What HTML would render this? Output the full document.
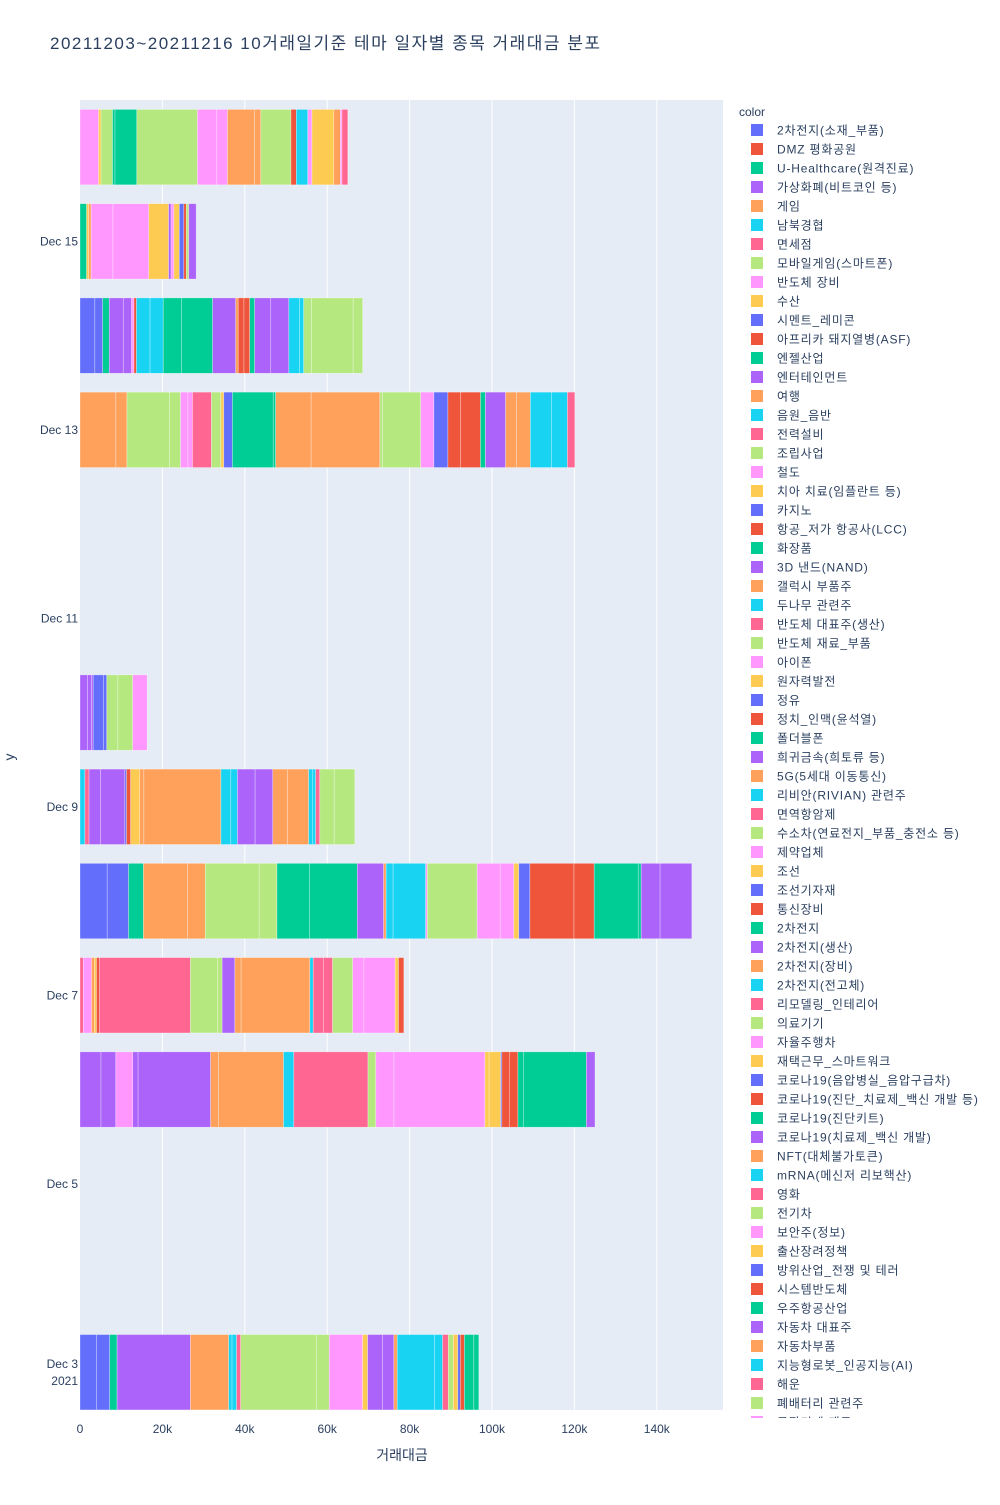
<!DOCTYPE html>
<html><head><meta charset="utf-8">
<style>
body{margin:0;background:#fff;font-family:"Liberation Sans","Noto Sans CJK KR",sans-serif;}
svg text{font-family:"Liberation Sans","Noto Sans CJK KR",sans-serif;}
</style></head>
<body>
<svg id="chart" width="1000" height="1500" xmlns="http://www.w3.org/2000/svg">
<rect x="0" y="0" width="1000" height="1500" fill="#fff"/>
<text x="50" y="49" font-size="17" fill="#2a3f5f" textLength="550" lengthAdjust="spacing">20211203~20211216 10거래일기준 테마 일자별 종목 거래대금 분포</text>
<rect x="80" y="100" width="643" height="1310" fill="#E5ECF6"/>
<g id="grid"></g>
<g id="bars"></g>
<g id="axes"></g>
<g id="legend"></g>
</svg>
<script>
// ---- data ----
const barDays = [16, 15, 14, 13, 10, 9, 8, 7, 6, 3];
const seg16 = [4.5,0.6,2.8,0.6,5.3,14.7,4.7,2.6,6.5,1.6,7.3,1.3,2.8,1.0,5.3,1.6,0.4,1.4];
const col16 = "MYLGGLMMOOLRCMYOMK";
const seg15 = [1.6,0.5,0.6,5.3,8.7,4.8,0.6,0.7,1.3,1.1,0.6,0.6,1.8];
const col15 = "GYOMMYPMYBRLP";
const seg14 = [3.6,1.9,1.6,3.4,2.0,0.6,0.6,3.3,3.2,4.4,7.6,5.6,0.6,1.4,1.4,1.2,3.9,4.4,2.6,1.0,1.9,10.1,2.3];
const col14 = "BBGPPMRCCGGPORRGPPCCLLL";
const seg13 = [8.7,2.7,10.3,2.7,1.8,1.1,4.6,2.3,0.7,2.1,9.9,0.6,8.6,16.7,0.6,9.3,3.2,3.4,3.1,4.8,1.2,4.9,2.6,3.4,5.1,3.9,1.8];
const col13 = "OOLLMMKLYBGGOOLLMBRRGPOOCCK";
const seg10 = [1.8,1.0,0.4,2.5,0.8,2.7,3.6,3.5];
const col10 = "PPPBBLLM";
const seg9 = [1.2,1.0,2.8,5.9,0.4,1.0,2.2,1.0,18.7,2.4,1.6,4.3,4.3,3.6,5.1,1.0,0.7,1.0,3.5,5.0];
const col9 = "CKPPBRYOOCCPPOOCCKLL";
const seg8 = [6.6,5.2,3.6,10.7,4.3,13.1,4.3,7.9,11.6,6.4,0.6,1.7,7.9,0.4,12.1,5.6,3.3,1.2,2.7,10.7,4.9,10.7,0.7,4.6,7.7];
const col8 = "BBGOOLLGGPOCCMLMMYBRRGGPP";
const seg7 = [0.8,2.0,0.7,0.5,0.7,22.1,6.6,1.1,3.1,1.5,16.7,0.8,2.5,2.2,4.9,2.7,7.6,0.8,1.3];
const col7 = "KMOYRKLLPOOCKKLMMYR";
const seg6 = [5.1,3.6,4.1,1.3,17.6,1.9,15.8,2.5,18.0,1.9,4.4,22.1,1.0,2.8,0.3,1.8,2.1,1.3,15.3,2.1];
const col6 = "PPMPPOOCKLMMYYBRRGGP";
const seg3 = [4.0,3.2,1.8,17.8,9.3,0.8,1.1,1.0,18.4,3.1,8.1,1.2,3.6,2.8,0.8,9.1,1.9,1.4,1.2,1.1,0.6,1.0,2.3,1.2];
const col3 = "BBGPOCCKLLMYPPOCCKLYBRGG";
const barSegs = [seg16,seg15,seg14,seg13,seg10,seg9,seg8,seg7,seg6,seg3];
const barCols = [col16,col15,col14,col13,col10,col9,col8,col7,col6,col3];
const xTicks = [0,20,40,60,80,100,120,140];
const xTickLabels = ["0","20k","40k","60k","80k","100k","120k","140k"];
const yTickDays = [15,13,11,9,7,5,3];
const yTickLabels = ["Dec 15","Dec 13","Dec 11","Dec 9","Dec 7","Dec 5","Dec 3"];
const legendNames = ["2차전지(소재_부품)","DMZ 평화공원","U-Healthcare(원격진료)","가상화폐(비트코인 등)","게임","남북경협","면세점","모바일게임(스마트폰)","반도체 장비","수산","시멘트_레미콘","아프리카 돼지열병(ASF)","엔젤산업","엔터테인먼트","여행","음원_음반","전력설비","조립사업","철도","치아 치료(임플란트 등)","카지노","항공_저가 항공사(LCC)","화장품","3D 낸드(NAND)","갤럭시 부품주","두나무 관련주","반도체 대표주(생산)","반도체 재료_부품","아이폰","원자력발전","정유","정치_인맥(윤석열)","폴더블폰","희귀금속(희토류 등)","5G(5세대 이동통신)","리비안(RIVIAN) 관련주","면역항암제","수소차(연료전지_부품_충전소 등)","제약업체","조선","조선기자재","통신장비","2차전지","2차전지(생산)","2차전지(장비)","2차전지(전고체)","리모델링_인테리어","의료기기","자율주행차","재택근무_스마트워크","코로나19(음압병실_음압구급차)","코로나19(진단_치료제_백신 개발 등)","코로나19(진단키트)","코로나19(치료제_백신 개발)","NFT(대체불가토큰)","mRNA(메신저 리보핵산)","영화","전기차","보안주(정보)","출산장려정책","방위산업_전쟁 및 테러","시스템반도체","우주항공산업","자동차 대표주","자동차부품","지능형로봇_인공지능(AI)","해운","폐배터리 관련주","공작기계 재료"];

// ---- styling ----
const palette = {B:"#636efa",R:"#EF553B",G:"#00cc96",P:"#ab63fa",O:"#FFA15A",C:"#19d3f3",K:"#FF6692",L:"#B6E880",M:"#FF97FF",Y:"#FECB52"};
const cycle = ["#636efa","#EF553B","#00cc96","#ab63fa","#FFA15A","#19d3f3","#FF6692","#B6E880","#FF97FF","#FECB52"];
const NS = "http://www.w3.org/2000/svg";
const X0 = 80, PXK = 4.12;
function xs(v){ return X0 + v*PXK; }
const DAYPX = 94.24;
function ys(d){ return 100 + (16.5 - d)*DAYPX; }
function mk(tag, attrs, parent){ const e=document.createElementNS(NS,tag); for(const k in attrs) e.setAttribute(k,attrs[k]); parent.appendChild(e); return e; }

const grid = document.getElementById('grid');
xTicks.forEach((t,i)=>{
  if(i===0) return;
  const l = mk('line',{x1:xs(t),x2:xs(t),y1:100,y2:1410,stroke:"#fff","stroke-width":1},grid);
  
  
});

const bars = document.getElementById('bars');
barDays.forEach((d,bi)=>{
  const g = mk('g',{},bars);
  
  
  let acc = 0;
  const vals = barSegs[bi], cols = barCols[bi];
  const yc = ys(d), h = 0.8*DAYPX;
  vals.forEach((v,si)=>{
    const r = mk('rect',{x:xs(acc),y:yc-h/2,width:v*PXK,height:h,fill:palette[cols[si]],stroke:"rgba(255,255,255,0.5)","stroke-width":0.6},g);
    
    
    acc += v;
  });
});

const axes = document.getElementById('axes');
xTicks.forEach((t,i)=>{
  const tx = mk('text',{x:xs(t),y:1433,"font-size":12,fill:"#2a3f5f","text-anchor":"middle"},axes);
  tx.textContent = xTickLabels[i];
  
  
});
yTickDays.forEach((d,i)=>{
  const yy = ys(d);
  const tx = mk('text',{x:78,y:yy+(d===3?-4:4),"font-size":12,fill:"#2a3f5f","text-anchor":"end"},axes);
  tx.textContent = yTickLabels[i];
  
  
  if(d===3){
    const t2 = mk('text',{x:78,y:yy+13,"font-size":12,fill:"#2a3f5f","text-anchor":"end"},axes);
    t2.textContent = "2021";
    
    
  }
});
const xt = mk('text',{x:402,y:1460,"font-size":14,fill:"#2a3f5f","text-anchor":"middle"},axes);
xt.textContent = "거래대금";


const yt = mk('text',{x:14,y:757,"font-size":14,fill:"#2a3f5f","text-anchor":"middle",transform:"rotate(-90 14 757)"},axes);
yt.textContent = "y";



const legend = document.getElementById('legend');
const cp = mk('clipPath',{id:"lc"},legend);
mk('rect',{x:730,y:100,width:270,height:1318},cp);
const lt = mk('text',{x:739,y:116,"font-size":12,fill:"#2a3f5f"},legend);
lt.textContent = "color";


const lg = mk('g',{"clip-path":"url(#lc)"},legend);
legendNames.forEach((n,i)=>{
  const yy = 130 + i*19;
  const e = mk('g',{},lg);
  
  
  mk('rect',{x:751,y:yy-6,width:12,height:12,fill:cycle[i%10]},e);
  const tx = mk('text',{x:777,y:yy+4.5,"font-size":12,fill:"#2a3f5f","letter-spacing":"0.8"},e);
  tx.textContent = n;
});
</script>
</body></html>
